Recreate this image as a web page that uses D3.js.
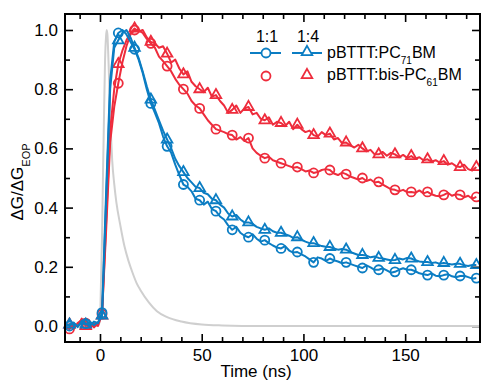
<!DOCTYPE html>
<html>
<head>
<meta charset="utf-8">
<script src="https://cdn.jsdelivr.net/npm/d3@7"></script>
<style>
  body { margin: 0; background: #fff; }
  svg { display: block; font-family: Arial, "Liberation Sans", sans-serif; }
</style>
</head>
<body>
<div id="chart"></div>
<script>
// time axis of the transients (ns)
const times = [-17,-15,-13,-11,-9,-7,-5,-3,-1,1,3,5,7,9,11,13,15,17,19,21,23,25,27,29,31,33,35,37,39,41,43,45,47,49,
  51,53,55,57,59,61,63,65,67,69,71,73,75,77,79,81,83,85,87,89,91,93,95,97,99,101,103,105,107,109,111,113,115,117,119,
  121,123,125,127,129,131,133,135,137,139,141,143,145,147,149,151,153,155,157,159,161,163,165,167,169,171,173,175,177,
  179,181,183,185];

// pBTTT:PC71BM 1:1 (blue circles)
const pc71_11 = [0.005,0.0,0.012,-0.004,0.018,0.008,0.0,0.015,0.01,0.045,0.45,0.83,0.96,0.99,1.0,0.985,0.96,0.935,0.9,
  0.855,0.8,0.752,0.72,0.685,0.64,0.607,0.585,0.545,0.51,0.478,0.47,0.455,0.43,0.425,0.41,0.42,0.395,0.388,0.37,0.36,
  0.34,0.325,0.335,0.315,0.305,0.3,0.31,0.295,0.285,0.29,0.28,0.272,0.265,0.262,0.27,0.255,0.248,0.25,0.242,0.235,0.225,
  0.215,0.232,0.228,0.22,0.228,0.222,0.218,0.212,0.215,0.21,0.205,0.2,0.196,0.205,0.198,0.19,0.19,0.195,0.188,0.18,
  0.183,0.19,0.195,0.19,0.19,0.185,0.178,0.175,0.172,0.178,0.17,0.168,0.172,0.175,0.168,0.165,0.169,0.17,0.165,0.16,0.162];

// pBTTT:PC71BM 1:4 (blue triangles)
const pc71_14 = [0.0,0.005,0.01,0.0,0.012,0.005,0.015,0.003,0.012,0.035,0.42,0.8,0.94,0.965,0.99,1.0,0.975,0.94,0.905,
  0.86,0.81,0.765,0.73,0.695,0.66,0.63,0.6,0.565,0.54,0.52,0.5,0.485,0.47,0.466,0.45,0.445,0.43,0.425,0.41,0.4,0.38,0.37,
  0.375,0.36,0.35,0.35,0.345,0.335,0.33,0.325,0.33,0.32,0.315,0.315,0.31,0.305,0.298,0.3,0.292,0.285,0.28,0.28,0.275,
  0.27,0.268,0.267,0.262,0.258,0.26,0.258,0.25,0.245,0.24,0.24,0.238,0.232,0.235,0.23,0.228,0.225,0.222,0.223,0.228,
  0.225,0.23,0.228,0.222,0.218,0.216,0.216,0.213,0.215,0.21,0.213,0.21,0.208,0.21,0.21,0.205,0.203,0.206,0.206];

// pBTTT:bis-PC61BM 1:1 (red circles)
const bis61_11 = [-0.005,-0.01,0.005,0.0,0.025,0.01,-0.01,0.01,0.0,0.04,0.32,0.62,0.74,0.82,0.89,0.945,0.985,1.0,1.0,
  0.99,0.97,0.955,0.94,0.91,0.895,0.878,0.86,0.835,0.815,0.8,0.785,0.76,0.745,0.735,0.715,0.695,0.68,0.665,0.66,0.655,
  0.648,0.645,0.63,0.638,0.625,0.635,0.6,0.585,0.575,0.567,0.572,0.56,0.555,0.55,0.545,0.54,0.535,0.537,0.53,0.522,
  0.525,0.517,0.52,0.527,0.53,0.527,0.515,0.51,0.518,0.513,0.505,0.5,0.495,0.5,0.49,0.495,0.485,0.487,0.478,0.47,0.462,
  0.46,0.455,0.46,0.452,0.453,0.45,0.458,0.448,0.453,0.445,0.44,0.438,0.443,0.45,0.44,0.445,0.443,0.435,0.44,0.43,0.436];

// pBTTT:bis-PC61BM 1:4 (red triangles)
const bis61_14 = [0.0,0.005,-0.01,0.01,0.02,0.0,0.012,-0.005,0.01,0.035,0.35,0.66,0.8,0.885,0.93,0.965,0.99,1.005,0.995,
  1.0,0.975,0.96,0.955,0.94,0.945,0.92,0.89,0.9,0.87,0.85,0.86,0.825,0.81,0.8,0.79,0.805,0.775,0.78,0.76,0.745,0.72,0.73,
  0.745,0.72,0.735,0.74,0.715,0.72,0.7,0.695,0.705,0.68,0.69,0.686,0.675,0.69,0.665,0.68,0.665,0.655,0.66,0.645,0.64,
  0.655,0.645,0.65,0.63,0.635,0.618,0.62,0.61,0.603,0.612,0.6,0.59,0.595,0.58,0.58,0.588,0.575,0.585,0.58,0.57,0.578,
  0.568,0.574,0.565,0.57,0.56,0.563,0.555,0.56,0.552,0.557,0.545,0.55,0.54,0.537,0.545,0.53,0.525,0.537];

// instrument response (grey)
const irf_t = [-17,-1,0,0.5,1,1.5,2,2.5,3,3.3,3.7,4,4.5,5,5.5,6,7,8,10,12,14,16,18,20,24,28,33,40,50,60,80,187];
const irf_v = [0,0,0.02,0.15,0.3,0.52,0.72,0.9,0.98,1.0,0.98,0.93,0.83,0.72,0.63,0.56,0.48,0.42,0.34,0.27,0.22,0.18,
  0.145,0.12,0.08,0.05,0.03,0.015,0.005,0.002,0,0];

const x_major = [0, 50, 100, 150];
const y_major = [0, 0.2, 0.4, 0.6, 0.8, 1.0];

const w = 481, h = 382;
const marginLeft = 65, marginRight = 480, marginTop = 14, marginBottom = 342;
const blue = '#0b7dc3', red = '#ee2c3c';

const x = d3.scaleLinear().domain([-17.2, 186.8]).range([marginLeft, marginRight]);
const y = d3.scaleLinear().domain([-0.054, 1.054]).range([marginBottom, marginTop]);

const svg = d3.select('#chart').append('svg').attr('width', w).attr('height', h);

const x_minor = d3.range(-10, 190, 10).filter(v => v % 50 !== 0);
const y_minor = [0.1, 0.3, 0.5, 0.7, 0.9];

const style_axis = g => {
    g.select('.domain').remove();
    g.selectAll('line').attr('stroke', '#000').attr('stroke-width', 1.6);
    g.selectAll('text').attr('font-size', 17).attr('fill', '#000').attr('font-family', 'Arial, "Liberation Sans", sans-serif');
};

// bottom / top
svg.append('g').attr('transform', `translate(0, ${marginBottom})`)
    .call(d3.axisBottom(x).tickValues(x_major).tickSize(-8).tickPadding(7).tickFormat(d3.format('d')))
    .call(style_axis);
svg.append('g').attr('transform', `translate(0, ${marginBottom})`)
    .call(d3.axisBottom(x).tickValues(x_minor).tickSize(-5).tickFormat(''))
    .call(style_axis);
svg.append('g').attr('transform', `translate(0, ${marginTop})`)
    .call(d3.axisTop(x).tickValues(x_major).tickSize(-8).tickFormat(''))
    .call(style_axis);
svg.append('g').attr('transform', `translate(0, ${marginTop})`)
    .call(d3.axisTop(x).tickValues(x_minor).tickSize(-5).tickFormat(''))
    .call(style_axis);

// left / right
svg.append('g').attr('transform', `translate(${marginLeft}, 0)`)
    .call(d3.axisLeft(y).tickValues(y_major).tickSize(-8).tickPadding(7).tickFormat(d3.format('.1f')))
    .call(style_axis);
svg.append('g').attr('transform', `translate(${marginLeft}, 0)`)
    .call(d3.axisLeft(y).tickValues(y_minor).tickSize(-5).tickFormat(''))
    .call(style_axis);
svg.append('g').attr('transform', `translate(${marginRight}, 0)`)
    .call(d3.axisRight(y).tickValues(y_major).tickSize(-8).tickFormat(''))
    .call(style_axis);
svg.append('g').attr('transform', `translate(${marginRight}, 0)`)
    .call(d3.axisRight(y).tickValues(y_minor).tickSize(-5).tickFormat(''))
    .call(style_axis);

const plot = svg.append('g');

// grey IRF
plot.append('path')
    .datum(d3.zip(irf_t, irf_v))
    .attr('fill', 'none')
    .attr('stroke', '#cfcfcf')
    .attr('stroke-width', 2)
    .attr('d', d3.line().curve(d3.curveMonotoneX).x(d => x(d[0])).y(d => y(d[1])));

const tri = d3.symbol(d3.symbolTriangle, 48);
const is_marker = t => (t + 15) % 8 === 0;

const draw_series = (values, color, shape) => {
    const pts = times.map((t, i) => ({ t, v: values[i] }));
    plot.append('path')
        .datum(pts)
        .attr('fill', 'none')
        .attr('stroke', color)
        .attr('stroke-width', 2)
        .attr('stroke-linejoin', 'round')
        .attr('d', d3.line().x(d => x(d.t)).y(d => y(d.v)));

    const marks = pts.filter(d => is_marker(d.t));
    if (shape === 'circle') {
        plot.append('g').selectAll('circle')
            .data(marks)
            .join('circle')
            .attr('cx', d => x(d.t))
            .attr('cy', d => y(d.v))
            .attr('r', 4.5)
            .attr('fill', 'none')
            .attr('stroke', color)
            .attr('stroke-width', 1.8);
    } else {
        plot.append('g').selectAll('path')
            .data(marks)
            .join('path')
            .attr('transform', d => `translate(${x(d.t)}, ${y(d.v)})`)
            .attr('d', tri())
            .attr('fill', 'none')
            .attr('stroke', color)
            .attr('stroke-width', 1.8);
    }
};

draw_series(bis61_11, red, 'circle');
draw_series(bis61_14, red, 'triangle');
draw_series(pc71_11, blue, 'circle');
draw_series(pc71_14, blue, 'triangle');

// frame
svg.append('rect')
    .attr('x', marginLeft).attr('y', marginTop)
    .attr('width', marginRight - marginLeft).attr('height', marginBottom - marginTop)
    .attr('fill', 'none').attr('stroke', '#000').attr('stroke-width', 2);

// axis titles
svg.append('text')
    .attr('x', 256).attr('y', 377)
    .attr('text-anchor', 'middle').attr('font-size', 17)
    .text('Time (ns)');

const ylab = svg.append('text')
    .attr('transform', 'translate(23, 182) rotate(-90)')
    .attr('text-anchor', 'middle').attr('font-size', 17);
ylab.append('tspan').text('ΔG/ΔG');
ylab.append('tspan').attr('font-size', 11).attr('dy', 7).text('EOP');

// legend
const lg = svg.append('g');
lg.append('text').attr('x', 267).attr('y', 42).attr('text-anchor', 'middle').attr('font-size', 16).text('1:1');
lg.append('text').attr('x', 308).attr('y', 42).attr('text-anchor', 'middle').attr('font-size', 16).text('1:4');

lg.append('line').attr('x1', 250).attr('x2', 281).attr('y1', 53).attr('y2', 53).attr('stroke', blue).attr('stroke-width', 2);
lg.append('line').attr('x1', 292).attr('x2', 322).attr('y1', 53).attr('y2', 53).attr('stroke', blue).attr('stroke-width', 2);
lg.append('circle').attr('cx', 266).attr('cy', 53).attr('r', 4.5).attr('fill', '#fff').attr('stroke', blue).attr('stroke-width', 1.8);
lg.append('path').attr('transform', 'translate(307, 52)').attr('d', tri()).attr('fill', '#fff').attr('stroke', blue).attr('stroke-width', 1.8);
lg.append('circle').attr('cx', 266).attr('cy', 76).attr('r', 4.5).attr('fill', 'none').attr('stroke', red).attr('stroke-width', 1.8);
lg.append('path').attr('transform', 'translate(307, 75)').attr('d', tri()).attr('fill', 'none').attr('stroke', red).attr('stroke-width', 1.8);

const t1 = lg.append('text').attr('x', 327).attr('y', 58).attr('font-size', 16);
t1.append('tspan').text('pBTTT:PC');
t1.append('tspan').attr('font-size', 10).attr('dy', 6).text('71');
t1.append('tspan').attr('dy', -6).text('BM');

const t2 = lg.append('text').attr('x', 327).attr('y', 80).attr('font-size', 16);
t2.append('tspan').text('pBTTT:bis-PC');
t2.append('tspan').attr('font-size', 10).attr('dy', 6).text('61');
t2.append('tspan').attr('dy', -6).text('BM');
</script>
</body>
</html>
